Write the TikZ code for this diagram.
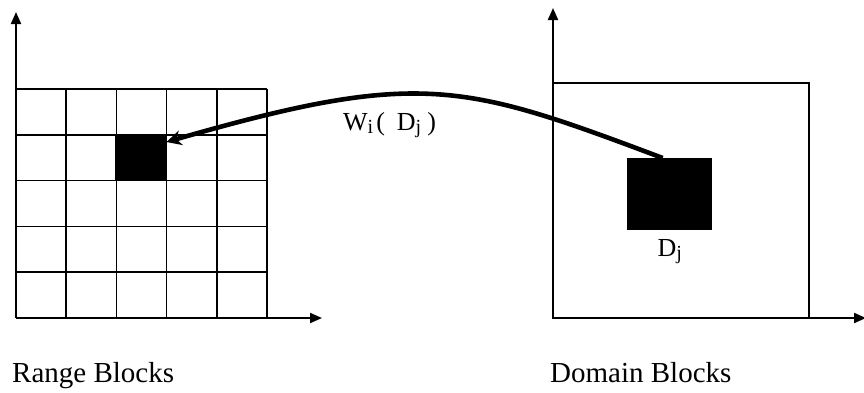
\documentclass[tikz,border=0pt]{standalone}
\usepackage{fontspec}
\setmainfont{Liberation Serif}
\usetikzlibrary{arrows.meta, positioning}
\newcommand{\lowsub}[1]{\raisebox{-3pt}{\fontsize{20}{21}\selectfont #1}}
\tikzset{
  axis/.style={line width=2pt, -{Triangle[length=12pt,width=10pt]}},
  gridline/.style={line width=1.7pt},
  frame/.style={line width=1.4pt},
  block/.style={rectangle, fill=black, draw=none, inner sep=0pt},
  mapping/.style={line width=4.6pt, -{Stealth[length=15pt,width=15pt]}},
  lbl/.style={font=\fontsize{29}{34}\selectfont, inner sep=0pt},
  sublbl/.style={lbl, font=\fontsize{26}{30}\selectfont},
}
\begin{document}
\begin{tikzpicture}[x=1pt,y=-1pt]
  \useasboundingbox (0,0) rectangle (864,392);
  % range blocks
  \foreach \i in {0,...,5}{
    \draw[gridline] (16+50.2*\i,89) -- (16+50.2*\i,318);
    \draw[gridline] (16,89+45.8*\i) -- (267,89+45.8*\i);
  }
  \node[block, minimum width=51pt, minimum height=44pt, anchor=north west] (rcell) at (115,136) {};
  \coordinate (ro) at (16,318);
  \coordinate (rtop) at (16,12);
  \coordinate (rright) at (322,318);
  \draw[axis] (ro) -- (rtop);
  \draw[axis] (ro) -- (rright);
  \node[lbl, anchor=base west] (rname) at (12,382) {Range Blocks};
  % domain blocks
  \draw[frame] (553,83) rectangle (809,318);
  \node[block, minimum width=85pt, minimum height=72pt, anchor=north west] (dblock) at (627,158) {};
  \node[sublbl, below=9pt of dblock] (dname) {D\lowsub{j}};
  \coordinate (do) at (553,318);
  \coordinate (dtop) at (553,8);
  \coordinate (dright) at (866,318);
  \draw[axis] (do) -- (dtop);
  \draw[axis] (do) -- (dright);
  \node[lbl, anchor=base west] (dtitle) at (550,382) {Domain Blocks};
  % mapping
  \draw[mapping] ([xshift=-7pt]dblock.north) .. controls (463,83) and (420,69) .. ([yshift=-6pt]rcell.north east);
  \node[sublbl, anchor=base west] (wlabel) at (343,130) {W\lowsub{i}\hspace{3pt}(\hspace{12pt}D\lowsub{j}\hspace{6pt})};
\end{tikzpicture}
\end{document}
